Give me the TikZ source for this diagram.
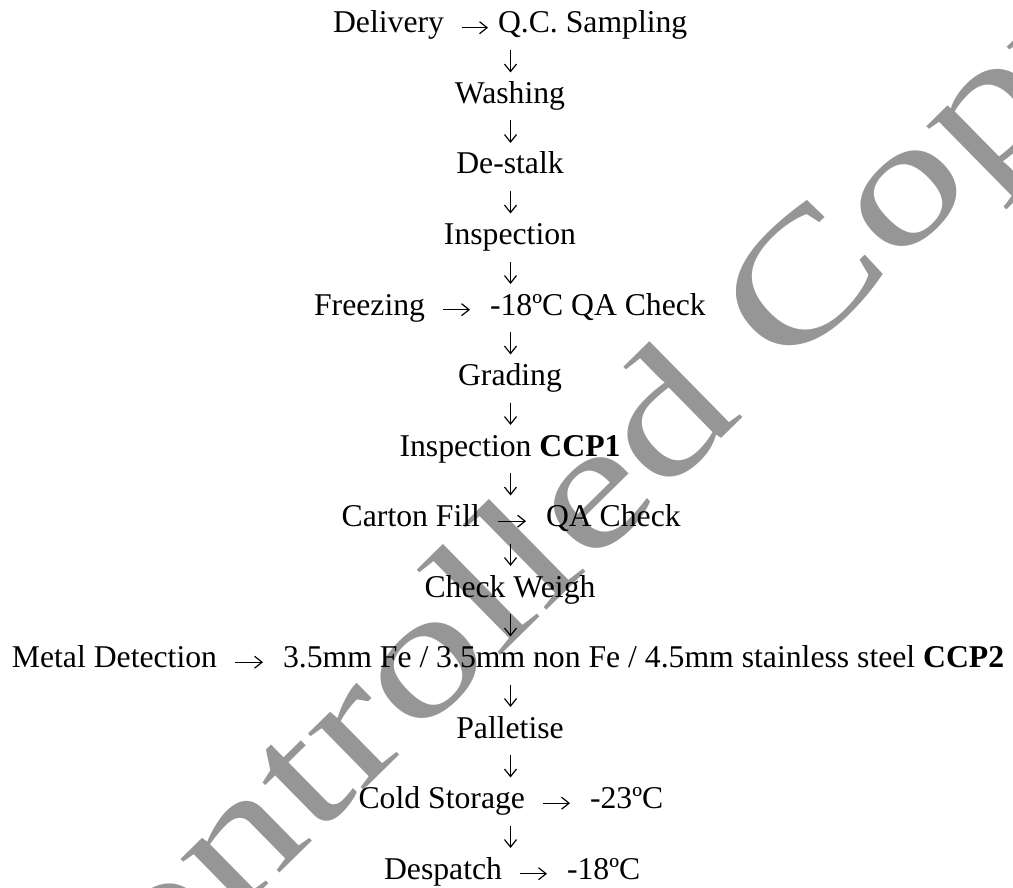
\documentclass[tikz,border=0pt]{standalone}
\usepackage{fontspec}
\setmainfont{Liberation Serif}
\usetikzlibrary{arrows.meta}
\definecolor{wmgray}{RGB}{150,150,150}
\begin{document}
\begin{tikzpicture}[x=1pt,y=1pt,
  stage/.style={inner sep=0pt, outer sep=0pt, text height=18.6pt, text depth=8pt,
    font=\fontsize{31.7}{35}\selectfont},
  flow/.style={line width=1.2pt, -{Straight Barb[length=7.5pt,width=12pt]},
    shorten <=9pt, shorten >=12.4pt},
  hflow/.style={line width=1.2pt, -{Straight Barb[length=7.5pt,width=12pt]},
    shorten <=18pt, shorten >=20pt},
  wm/.style={text=wmgray, inner sep=0pt, font=\fontsize{172}{182}\selectfont}]
\useasboundingbox (0,0) rectangle (1013,-888);
\clip (0,0) rectangle (1013,-888);
\node[wm, anchor=base west, rotate=44.5, xscale=1.343] (wmark) at (-125,-1270) {Uncontrolled Copy};
\coordinate (spine) at (510.5,0);
% stages
\node[stage, anchor=base east] (deliv) at (444,-33) {Delivery};
\node[stage, anchor=base west] (qc) at (498,-33) {Q.C. Sampling};
\node[stage, anchor=base] (wash) at (510,-103.5) {Washing};
\node[stage, anchor=base] (destalk) at (510,-174) {De-stalk};
\node[stage, anchor=base] (insp) at (510,-244.5) {Inspection};
\node[stage, anchor=base east] (freeze) at (425,-315) {Freezing};
\node[stage, anchor=base west] (qa1) at (490,-315) {-18ºC QA Check};
\node[stage, anchor=base] (grade) at (510,-385.5) {Grading};
\node[stage, anchor=base] (insp2) at (510,-456) {Inspection \textbf{CCP1}};
\node[stage, anchor=base east] (carton) at (480,-526.5) {Carton Fill};
\node[stage, anchor=base west] (qa2) at (546,-526.5) {QA Check};
\node[stage, anchor=base] (weigh) at (510,-597) {Check Weigh};
\node[stage, anchor=base east] (metal) at (217,-667.5) {Metal Detection};
\node[stage, anchor=base west] (limits) at (283,-667.5) {3.5mm Fe / 3.5mm non Fe / 4.5mm stainless steel \textbf{CCP2}};
\node[stage, anchor=base] (pallet) at (510,-738) {Palletise};
\node[stage, anchor=base east] (cold) at (525,-808.5) {Cold Storage};
\node[stage, anchor=base west] (t23) at (590,-808.5) {-23ºC};
\node[stage, anchor=base east] (desp) at (502,-879) {Despatch};
\node[stage, anchor=base west] (t18) at (567,-879) {-18ºC};
% vertical connectors
\draw[flow] (qc.south -| spine) -- (wash.north -| spine);
\draw[flow] (wash.south -| spine) -- (destalk.north -| spine);
\draw[flow] (destalk.south -| spine) -- (insp.north -| spine);
\draw[flow] (insp.south -| spine) -- (freeze.north -| spine);
\draw[flow] (freeze.south -| spine) -- (grade.north -| spine);
\draw[flow] (grade.south -| spine) -- (insp2.north -| spine);
\draw[flow] (insp2.south -| spine) -- (carton.north -| spine);
\draw[flow] (carton.south -| spine) -- (weigh.north -| spine);
\draw[flow] (weigh.south -| spine) -- (metal.north -| spine);
\draw[flow] (metal.south -| spine) -- (pallet.north -| spine);
\draw[flow] (pallet.south -| spine) -- (cold.north -| spine);
\draw[flow] (cold.south -| spine) -- (desp.north -| spine);
% horizontal connectors
\draw[hflow, shorten >=10pt] (deliv.east) -- (qc.west);
\draw[hflow] (freeze.east) -- (qa1.west);
\draw[hflow] (carton.east) -- (qa2.west);
\draw[hflow] (metal.east) -- (limits.west);
\draw[hflow] (cold.east) -- (t23.west);
\draw[hflow] (desp.east) -- (t18.west);
\end{tikzpicture}
\end{document}
